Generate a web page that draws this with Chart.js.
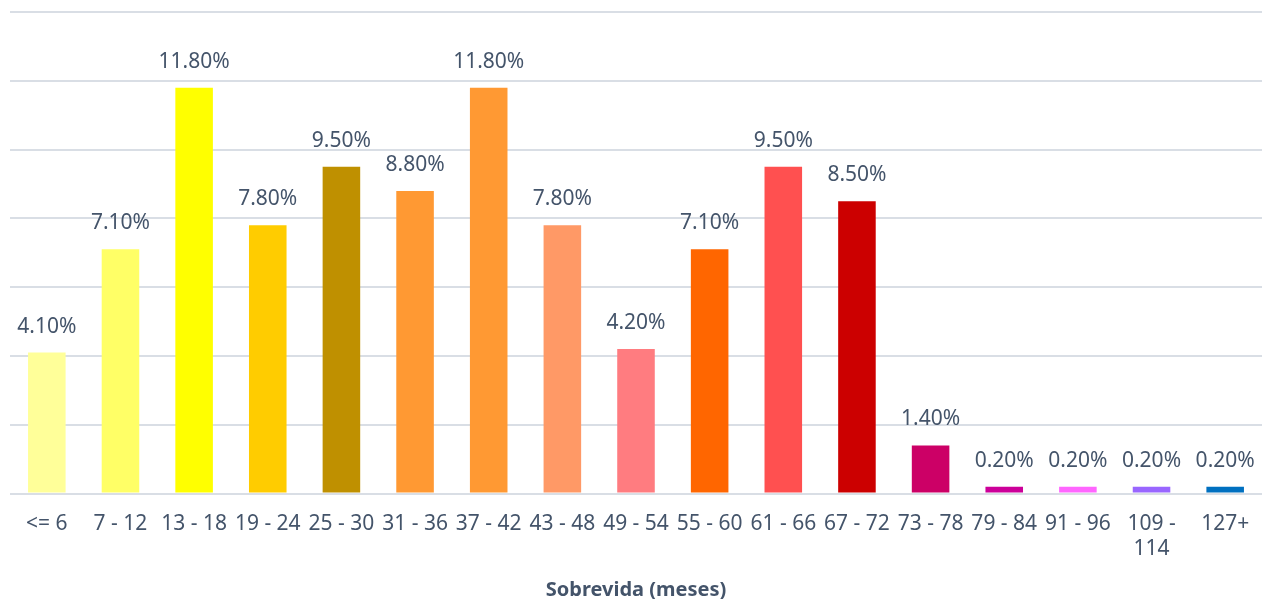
<!DOCTYPE html>
<html lang="pt">
<head>
  <meta charset="UTF-8">
  <title>Sobrevida (meses)</title>
  <style>
    body { margin: 0; background: #fff; }
    .wrap { width: 1262px; height: 599px; }
  </style>
</head>
<body>
  <div class="wrap">
    <canvas id="survivalChart"></canvas>
  </div>
  <script src="https://cdn.jsdelivr.net/npm/chart.js"></script>
  <script>
    // categorias e valores (%)
    const categories = ['<= 6', '7 - 12', '13 - 18', '19 - 24', '25 - 30', '31 - 36', '37 - 42', '43 - 48',
      '49 - 54', '55 - 60', '61 - 66', '67 - 72', '73 - 78', '79 - 84', '91 - 96', ['109 -', '114'], '127+'];
    const percentValues = [4.1, 7.1, 11.8, 7.8, 9.5, 8.8, 11.8, 7.8, 4.2, 7.1, 9.5, 8.5, 1.4, 0.2, 0.2, 0.2, 0.2];
    const barColors = ['#FFFF99', '#FFFF66', '#FFFF00', '#FFCC00', '#BF9000', '#FF9933', '#FF9933', '#FF9966',
      '#FF7C80', '#FF6600', '#FF5050', '#CC0000', '#CC0066', '#CC0099', '#FF66FF', '#9966FF', '#0070C0'];
    const yTicks = { min: 0, max: 14, step: 2 };

    const textColor = '#44546A';
    const fontFamily = '"Noto Sans", sans-serif';

    // desenha os rótulos de dados acima das barras
    const valueLabels = {
      id: 'valueLabels',
      afterDatasetsDraw(chart) {
        const ctx = chart.ctx;
        const meta = chart.getDatasetMeta(0);
        ctx.save();
        ctx.font = '21px ' + fontFamily;
        ctx.fillStyle = textColor;
        ctx.textAlign = 'center';
        ctx.textBaseline = 'middle';
        meta.data.forEach((bar, i) => {
          ctx.fillText(percentValues[i].toFixed(2) + '%', bar.x, bar.y - 26);
        });
        ctx.restore();
      }
    };

    new Chart(document.getElementById('survivalChart'), {
      type: 'bar',
      data: {
        labels: categories,
        datasets: [{
          data: percentValues,
          backgroundColor: barColors,
          barPercentage: 0.51,
          categoryPercentage: 1
        }]
      },
      options: {
        responsive: true,
        maintainAspectRatio: false,
        animation: false,
        layout: { padding: { top: 12, left: 10, right: -5, bottom: 0 } },
        plugins: {
          legend: { display: false },
          tooltip: { enabled: false }
        },
        scales: {
          x: {
            grid: { display: false, drawTicks: false },
            border: { display: false },
            afterFit(scale) {
              // sem espaço extra nas laterais para os rótulos
              scale.paddingLeft = 0;
              scale.paddingRight = 0;
            },
            ticks: {
              color: textColor,
              font: { family: fontFamily, size: 21 },
              autoSkip: false,
              maxRotation: 0,
              padding: 18
            },
            title: {
              display: true,
              text: 'Sobrevida (meses)',
              color: textColor,
              font: { family: fontFamily, size: 20, weight: 'bold' },
              padding: { top: -2, bottom: -3 }
            }
          },
          y: {
            min: yTicks.min,
            max: yTicks.max,
            ticks: { display: false, stepSize: yTicks.step },
            grid: { color: '#D9DEE5', lineWidth: 2, drawTicks: false },
            border: { display: false }
          }
        }
      },
      plugins: [valueLabels]
    });
  </script>
</body>
</html>
